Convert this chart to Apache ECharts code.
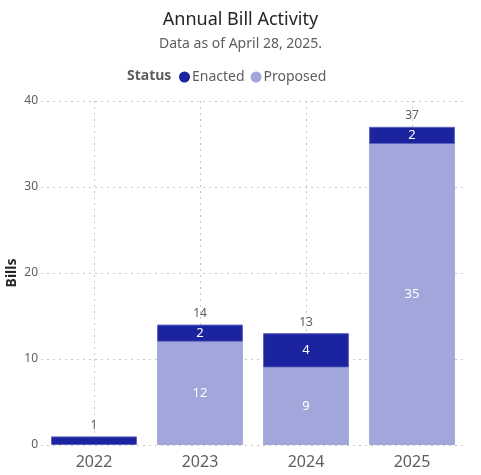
<!DOCTYPE html>
<html>
<head>
<meta charset="utf-8">
<script src="https://cdn.jsdelivr.net/npm/echarts@6/dist/echarts.min.js"></script>
<style>html,body{margin:0;padding:0;background:#fff;}#c{width:481px;height:475px;}</style>
</head>
<body>
<div id="c"></div>
<script>
const years = ['2022', '2023', '2024', '2025'];
const enacted = [1, 2, 4, 2];
const proposed = [0, 12, 9, 35];
const totals = years.map((_, i) => enacted[i] + proposed[i]);
const yTicks = [0, 10, 20, 30, 40];

const FONT = '"Noto Sans", "Open Sans", sans-serif';
const chart = echarts.init(document.getElementById('c'));
chart.setOption({
  animation: false,
  textStyle: { fontFamily: FONT },
  title: {
    text: 'Annual Bill Activity',
    subtext: 'Data as of April 28, 2025.',
    left: 'center', top: 6, itemGap: 8,
    textStyle: { fontFamily: FONT, fontSize: 18, fontWeight: 'normal', color: '#252423' },
    subtextStyle: { fontFamily: FONT, fontSize: 14, color: '#605E5C' }
  },
  graphic: [{
    type: 'text', left: 127, top: 69,
    style: { text: 'Status', font: 'bold 14px ' + FONT, fill: '#605E5C' }
  }, {
    type: 'text', x: 12, y: 273, rotation: Math.PI / 2,
    style: { text: 'Bills', font: 'bold 14px ' + FONT, fill: '#252423', align: 'center', verticalAlign: 'middle' }
  }],
  legend: {
    left: 174, top: 65, itemWidth: 11, itemHeight: 11, itemGap: 6,
    icon: 'circle',
    itemStyle: { borderWidth: 0 },
    textStyle: { fontFamily: FONT, fontSize: 14, color: '#605E5C', padding: [0, 0, 0, -3] },
    data: ['Enacted', 'Proposed']
  },
  grid: { left: 41, right: 16, top: 101, bottom: 30, containLabel: false, outerBoundsMode: 'none' },
  xAxis: {
    type: 'category', data: years,
    axisLine: { show: false }, axisTick: { show: false },
    axisLabel: { fontSize: 16, color: '#605E5C', margin: 9, fontFamily: FONT },
    splitLine: { show: true, alignWithLabel: true, lineStyle: { type: [2, 4], color: '#C8C8C8' } }
  },
  yAxis: {
    type: 'value', min: yTicks[0], max: yTicks[yTicks.length - 1], interval: 10,
    axisLabel: { fontSize: 12, color: '#605E5C', margin: 3, fontFamily: FONT },
    splitLine: { lineStyle: { type: [2, 4], color: '#C8C8C8' } }
  },
  series: [
    {
      name: 'Proposed', type: 'bar', stack: 's', barCategoryGap: '19%',
      data: proposed,
      itemStyle: { color: '#A1A7DB' },
      label: { show: true, position: 'inside', color: '#fff', fontSize: 13,
        formatter: p => p.value >= 2 ? String(p.value) : '' }
    },
    {
      name: 'Enacted', type: 'bar', stack: 's',
      data: enacted,
      itemStyle: { color: '#1B239F', borderColor: '#5C62BB', borderWidth: 1 },
      label: { show: true, position: 'inside', color: '#fff', fontSize: 13,
        formatter: p => p.value >= 2 ? String(p.value) : '' }
    },
    {
      name: 'Total', type: 'line', data: totals,
      symbol: 'circle', symbolSize: 0, showSymbol: true,
      itemStyle: { color: 'rgba(0,0,0,0)' },
      lineStyle: { opacity: 0 }, silent: true,
      label: { show: true, position: 'top', distance: 5, color: '#605E5C', fontSize: 12 }
    }
  ]
});
</script>
</body>
</html>
